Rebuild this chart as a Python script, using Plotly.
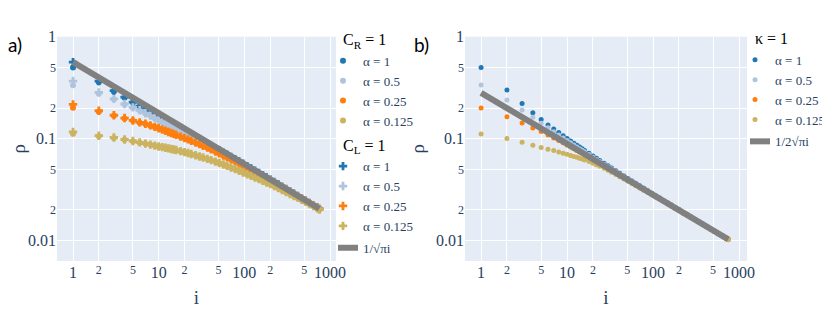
import plotly.graph_objects as go

# ---------------- data ----------------
i_vals = [1,2,3,4,5,6,7,8,9,10,11,12,13,14,15,16,18,20,22,24,27,30,33,37,41,46,
          51,57,63,70,78,87,97,108,120,133,148,164,182,202,224,249,276,307,341,379,
          421,467,519,576,640,711,750]

alpha_labels = ["α = 1", "α = 0.5", "α = 0.25", "α = 0.125"]

# panel a) C_R = 1 (dots)
cr_a1 = [0.500,0.358,0.291,0.252,0.226,0.207,0.192,0.180,0.170,0.162,0.155,0.149,0.1435,0.1387,0.1345,0.1306,
         0.1238,0.1180,0.1130,0.1086,0.1029,0.0981,0.0939,0.0891,0.0849,0.0805,0.0768,0.0729,0.0696,0.0662,
         0.0629,0.0596,0.0566,0.0537,0.0510,0.0485,0.0461,0.0438,0.0416,0.0395,0.0376,0.0357,0.0339,0.0321,
         0.0305,0.0289,0.0274,0.0260,0.0247,0.0234,0.0222,0.0211,0.0205]
cr_a05 = [0.334,0.2785,0.2433,0.2172,0.2014,0.1890,0.1770,0.1676,0.1590,0.1516,0.1455,0.1401,0.1354,0.1312,0.1275,0.1241,
          0.1177,0.1123,0.1077,0.1037,0.0985,0.0940,0.0902,0.0857,0.0818,0.0776,0.0740,0.0703,0.0672,0.0639,
          0.0608,0.0577,0.0548,0.0521,0.0496,0.0472,0.0449,0.0428,0.0406,0.0387,0.0368,0.0350,0.0333,0.0316,
          0.0301,0.0285,0.0271,0.0257,0.0245,0.0232,0.0221,0.0210,0.0204]
cr_a025 = [0.2014,0.1843,0.1683,0.1583,0.1500,0.1438,0.1394,0.1344,0.1300,0.1260,0.1224,0.1190,0.1158,0.1131,0.1107,0.1086,
           0.1044,0.1010,0.0980,0.0951,0.0913,0.0881,0.0850,0.0814,0.0781,0.0746,0.0715,0.0682,0.0654,0.0625,
           0.0596,0.0567,0.0540,0.0514,0.0490,0.0467,0.0445,0.0424,0.0403,0.0384,0.0366,0.0349,0.0332,0.0315,
           0.0300,0.0285,0.0271,0.0257,0.0245,0.0232,0.0220,0.0210,0.0204]
cr_a0125 = [0.1120,0.1055,0.1015,0.0975,0.0945,0.0915,0.0890,0.0870,0.0852,0.0836,0.0823,0.0811,0.0800,0.0789,0.0779,0.0770,
            0.0752,0.0734,0.0719,0.0705,0.0685,0.0667,0.0651,0.0631,0.0613,0.0593,0.0575,0.0555,0.0538,0.0519,
            0.0501,0.0482,0.0464,0.0446,0.0430,0.0414,0.0399,0.0384,0.0370,0.0356,0.0341,0.0326,0.0312,0.0299,
            0.0286,0.0273,0.0262,0.0250,0.0239,0.0228,0.0217,0.0207,0.0202]

# panel a) C_L = 1 (crosses)
cl_a1 = [0.564,0.368,0.296,0.256,0.229,0.209,0.193,0.181,0.171,0.163,0.156,0.150,0.1442,0.1394,0.1351,0.1312,
         0.1243,0.1185,0.1134,0.1090,0.1033,0.0984,0.0942,0.0894,0.0851,0.0807,0.0770,0.0731,0.0697,0.0663,
         0.0630,0.0597,0.0567,0.0538,0.0511,0.0486,0.0462,0.0439,0.0417,0.0396,0.0376,0.0357,0.0339,0.0321,
         0.0305,0.0289,0.0274,0.0260,0.0247,0.0234,0.0222,0.0211,0.0205]
cl_a05 = [0.368,0.284,0.246,0.219,0.203,0.190,0.178,0.1684,0.1598,0.1523,0.1462,0.1408,0.1361,0.1318,0.1281,0.1247,
          0.1183,0.1128,0.1082,0.1042,0.0990,0.0945,0.0906,0.0861,0.0822,0.0780,0.0743,0.0706,0.0675,0.0642,
          0.0611,0.0580,0.0551,0.0523,0.0498,0.0474,0.0451,0.0430,0.0408,0.0389,0.0370,0.0352,0.0334,0.0317,
          0.0302,0.0286,0.0272,0.0258,0.0246,0.0233,0.0221,0.0210,0.0204]
cl_a025 = [0.2172,0.1880,0.1700,0.1595,0.1510,0.1446,0.1401,0.1351,0.1307,0.1266,0.1230,0.1196,0.1164,0.1137,0.1113,0.1091,
           0.1049,0.1015,0.0985,0.0956,0.0918,0.0885,0.0854,0.0818,0.0785,0.0750,0.0718,0.0685,0.0657,0.0628,
           0.0599,0.0570,0.0543,0.0517,0.0492,0.0469,0.0447,0.0426,0.0405,0.0386,0.0368,0.0351,0.0334,0.0317,
           0.0301,0.0286,0.0272,0.0258,0.0246,0.0233,0.0221,0.0210,0.0204]
cl_a0125 = [0.1164,0.1070,0.1028,0.0982,0.0950,0.0920,0.0894,0.0874,0.0856,0.0840,0.0827,0.0815,0.0804,0.0793,0.0783,0.0774,
            0.0756,0.0738,0.0723,0.0709,0.0688,0.0670,0.0654,0.0634,0.0616,0.0596,0.0578,0.0558,0.0541,0.0522,
            0.0504,0.0484,0.0466,0.0448,0.0432,0.0416,0.0401,0.0386,0.0372,0.0358,0.0343,0.0328,0.0314,0.0300,
            0.0287,0.0274,0.0263,0.0251,0.0240,0.0229,0.0218,0.0208,0.0203]

# panel b) kappa = 1 (dots)
k_a1 = [0.500,0.300,0.222,0.180,0.154,0.136,0.1242,0.1149,0.1072,0.1006,0.0951,0.0904,0.0863,0.0827,0.0796,0.0766,
        0.0718,0.0677,0.0642,0.0612,0.0574,0.0542,0.0515,0.0484,0.0458,0.0431,0.0408,0.0385,0.0365,0.0346,
        0.0327,0.0309,0.0292,0.0276,0.0262,0.0248,0.0235,0.0223,0.0211,0.0201,0.0190,0.0181,0.0171,0.0162,
        0.0154,0.0146,0.0138,0.0131,0.0124,0.0118,0.0112,0.0106,0.0103]
k_a05 = [0.336,0.2397,0.191,0.162,0.1418,0.1279,0.1173,0.1087,0.1018,0.0961,0.0912,0.0869,0.0831,0.0799,0.0771,0.0743,
         0.0698,0.0659,0.0626,0.0598,0.0562,0.0531,0.0506,0.0477,0.0451,0.0425,0.0403,0.0381,0.0361,0.0342,
         0.0323,0.0306,0.0289,0.0274,0.0261,0.0247,0.0234,0.0222,0.0210,0.0199,0.0189,0.0180,0.0171,0.0162,
         0.0154,0.0146,0.0138,0.0131,0.0124,0.0118,0.0112,0.0106,0.0103]
k_a025 = [0.2000,0.1640,0.1428,0.1273,0.1175,0.1089,0.1018,0.0960,0.0911,0.0869,0.0831,0.0798,0.0768,0.0742,0.0719,0.0696,
          0.0658,0.0625,0.0596,0.0572,0.0540,0.0512,0.0489,0.0462,0.0438,0.0414,0.0394,0.0373,0.0354,0.0336,
          0.0318,0.0301,0.0285,0.0270,0.0257,0.0244,0.0231,0.0219,0.0208,0.0197,0.0187,0.0178,0.0169,0.0160,
          0.0152,0.0144,0.0137,0.0130,0.0123,0.0117,0.0111,0.0105,0.0103]
k_a0125 = [0.1115,0.1002,0.0924,0.0864,0.0818,0.0790,0.0765,0.0742,0.0722,0.0703,0.0686,0.0670,0.0656,0.0643,0.0631,0.0619,
           0.0596,0.0574,0.0555,0.0537,0.0512,0.0489,0.0469,0.0445,0.0424,0.0403,0.0383,0.0364,0.0346,0.0329,
           0.0312,0.0296,0.0281,0.0267,0.0254,0.0242,0.0229,0.0217,0.0207,0.0196,0.0186,0.0177,0.0169,0.0160,
           0.0152,0.0144,0.0136,0.0130,0.0123,0.0117,0.0111,0.0105,0.0102]

# reference lines (end points)
ref_i = [1, 750]
ref_a = [0.564, 0.0206]   # 1/sqrt(pi i)
ref_b = [0.282, 0.0103]   # 1/2 sqrt(pi i)

colors = ["#1f77b4", "#b0c4de", "#ff7f0e", "#cbb35f"]

for s in [cr_a1, cr_a05, cr_a025, cr_a0125, cl_a1, cl_a05, cl_a025, cl_a0125, k_a1, k_a05, k_a025, k_a0125]:
    assert len(s) == len(i_vals)

FONT = "Liberation Serif"
TXT = "#2a3f5f"
GT_FONT = dict(family=FONT, size=16, color="black", weight="normal")

fig = go.Figure()

# panel a
for lab, ys, c in zip(alpha_labels, [cr_a1, cr_a05, cr_a025, cr_a0125], colors):
    fig.add_trace(go.Scatter(x=i_vals, y=ys, mode="markers", name=lab,
                             marker=dict(color=c, size=6, symbol="circle"),
                             legendgroup="cr", legendgrouptitle=dict(text="C<sub>R</sub> = 1", font=GT_FONT),
                             xaxis="x", yaxis="y", legend="legend"))
for lab, ys, c in zip(alpha_labels, [cl_a1, cl_a05, cl_a025, cl_a0125], colors):
    fig.add_trace(go.Scatter(x=i_vals, y=ys, mode="markers", name=lab,
                             marker=dict(color=c, size=7, symbol="cross"),
                             legendgroup="cl", legendgrouptitle=dict(text="C<sub>L</sub> = 1", font=GT_FONT),
                             xaxis="x", yaxis="y", legend="legend"))
fig.add_trace(go.Scatter(x=ref_i, y=ref_a, mode="lines", name="1/√πi",
                         line=dict(color="gray", width=6), legendgroup="refa",
                         xaxis="x", yaxis="y", legend="legend"))

# panel b
for lab, ys, c in zip(alpha_labels, [k_a1, k_a05, k_a025, k_a0125], colors):
    fig.add_trace(go.Scatter(x=i_vals, y=ys, mode="markers", name=lab,
                             marker=dict(color=c, size=5, symbol="circle"),
                             legendgroup="k", legendgrouptitle=dict(text="κ = 1", font=GT_FONT),
                             xaxis="x2", yaxis="y2", legend="legend2"))
fig.add_trace(go.Scatter(x=ref_i, y=ref_b, mode="lines", name="1/2√πi",
                         line=dict(color="gray", width=6), legendgroup="refb",
                         xaxis="x2", yaxis="y2", legend="legend2"))

# the page body adds an 8px offset; the figure is sized to fill the rest of the window
OFF = 8
W, H = 830 - OFF, 314 - OFF
def fx(px): return (px - OFF) / W
def fy(py): return 1 - (py - OFF) / H

axis_common = dict(type="log", gridcolor="white", zeroline=False, showline=False, ticks="", ticklen=0,
                   tickfont=dict(family=FONT, size=16, color=TXT), automargin=False)
xtitle = dict(text="i", font=dict(family=FONT, size=19, color=TXT), standoff=10)
ytitle = dict(text="ρ", font=dict(family=FONT, size=19, color=TXT), standoff=6)

fig.update_layout(
    width=W, height=H,
    margin=dict(l=0, r=0, t=0, b=0),
    paper_bgcolor="white", plot_bgcolor="#E5ECF6",
    font=dict(family=FONT, size=13, color=TXT),
    showlegend=True,
    xaxis=dict(axis_common, domain=[fx(57), fx(336)], range=[-0.187, 3.07], anchor="y", title=xtitle),
    yaxis=dict(axis_common, domain=[fy(261), fy(36.7)], range=[-2.2, 0.001], anchor="x", title=ytitle),
    xaxis2=dict(axis_common, domain=[fx(465), fx(747)], range=[-0.187, 3.093], anchor="y2", title=xtitle),
    yaxis2=dict(axis_common, domain=[fy(261), fy(36.7)], range=[-2.2, 0.001], anchor="x2", title=ytitle),
    legend=dict(x=fx(338), y=fy(22), xanchor="left", yanchor="top", bgcolor="rgba(0,0,0,0)",
                font=dict(family=FONT, size=13, color=TXT), tracegroupgap=2, traceorder="grouped",
                indentation=-15),
    legend2=dict(x=fx(750), y=fy(21), xanchor="left", yanchor="top", bgcolor="rgba(0,0,0,0)",
                 font=dict(family=FONT, size=13, color=TXT), tracegroupgap=2, traceorder="grouped",
                 indentation=-15),
    annotations=[
        dict(text="a)", x=fx(6), y=fy(44), xref="paper", yref="paper", xanchor="left", yanchor="middle",
             showarrow=False, font=dict(family="Lato", size=19, color="black")),
        dict(text="b)", x=fx(412), y=fy(44), xref="paper", yref="paper", xanchor="left", yanchor="middle",
             showarrow=False, font=dict(family="Lato", size=19, color="black")),
    ],
)

fig.write_html("out.html")
